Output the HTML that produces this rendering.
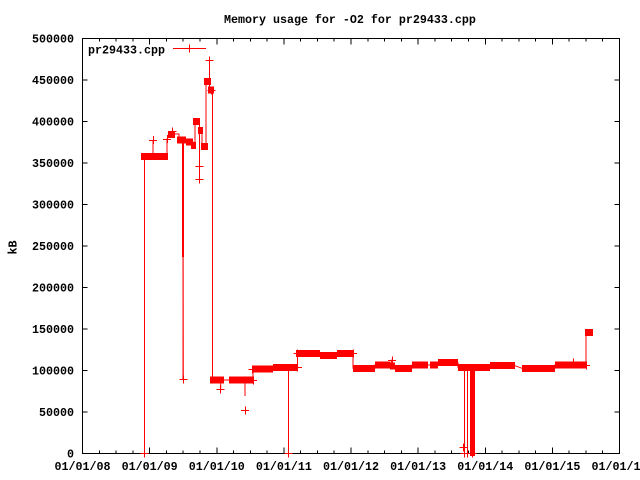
<!DOCTYPE html>
<html><head><meta charset="utf-8"><style>
html,body{margin:0;padding:0;background:#fff;}
svg{display:block;}
text{font-family:"Liberation Mono",monospace;font-weight:bold;font-size:11.67px;fill:#000;}
</style></head><body>
<svg width="640" height="480" viewBox="0 0 640 480" xmlns="http://www.w3.org/2000/svg">
<rect width="640" height="480" fill="#fff"/>
<!-- title -->
<text x="224" y="23">Memory usage for -O2 for pr29433.cpp</text>
<!-- ylabel -->
<text transform="translate(16.5,247.5) rotate(-90)" text-anchor="middle">kB</text>

<!-- axes frame -->
<g stroke="#000" stroke-width="1" fill="none" shape-rendering="crispEdges">
<rect x="82.5" y="38.5" width="537" height="415"/>
<!-- y ticks -->
<path d="M82.5 453.5h5M82.5 412h5M82.5 370.5h5M82.5 329h5M82.5 287.5h5M82.5 246h5M82.5 204.5h5M82.5 163h5M82.5 121.5h5M82.5 80h5M82.5 38.5h5
M619.5 453.5h-5M619.5 412h-5M619.5 370.5h-5M619.5 329h-5M619.5 287.5h-5M619.5 246h-5M619.5 204.5h-5M619.5 163h-5M619.5 121.5h-5M619.5 80h-5M619.5 38.5h-5"/>
<!-- x major ticks -->
<path d="M82.5 453.5v-6M149.6 453.5v-6M216.75 453.5v-6M283.9 453.5v-6M351 453.5v-6M418.1 453.5v-6M485.25 453.5v-6M552.4 453.5v-6M619.5 453.5v-6
M82.5 38.5v6M149.6 38.5v6M216.75 38.5v6M283.9 38.5v6M351 38.5v6M418.1 38.5v6M485.25 38.5v6M552.4 38.5v6M619.5 38.5v6"/>
<!-- x minor ticks -->
<path d="M99.3 453.5v-3M116 453.5v-3M132.8 453.5v-3M166.4 453.5v-3M183.2 453.5v-3M200 453.5v-3M233.5 453.5v-3M250.3 453.5v-3M267.1 453.5v-3M300.7 453.5v-3M317.5 453.5v-3M334.2 453.5v-3M367.8 453.5v-3M384.6 453.5v-3M401.3 453.5v-3M434.9 453.5v-3M451.7 453.5v-3M468.5 453.5v-3M502 453.5v-3M518.8 453.5v-3M535.6 453.5v-3M569.2 453.5v-3M586 453.5v-3M602.7 453.5v-3
M99.3 38.5v3M116 38.5v3M132.8 38.5v3M166.4 38.5v3M183.2 38.5v3M200 38.5v3M233.5 38.5v3M250.3 38.5v3M267.1 38.5v3M300.7 38.5v3M317.5 38.5v3M334.2 38.5v3M367.8 38.5v3M384.6 38.5v3M401.3 38.5v3M434.9 38.5v3M451.7 38.5v3M468.5 38.5v3M502 38.5v3M518.8 38.5v3M535.6 38.5v3M569.2 38.5v3M586 38.5v3M602.7 38.5v3"/>
</g>

<!-- y tick labels -->
<g text-anchor="end">
<text x="74" y="457.5">0</text>
<text x="74" y="416">50000</text>
<text x="74" y="374.5">100000</text>
<text x="74" y="333">150000</text>
<text x="74" y="291.5">200000</text>
<text x="74" y="250">250000</text>
<text x="74" y="208.5">300000</text>
<text x="74" y="167">350000</text>
<text x="74" y="125.5">400000</text>
<text x="74" y="84">450000</text>
<text x="74" y="42.5">500000</text>
</g>
<!-- x tick labels -->
<g text-anchor="middle">
<text x="82.5" y="470">01/01/08</text>
<text x="149.6" y="470">01/01/09</text>
<text x="216.75" y="470">01/01/10</text>
<text x="283.9" y="470">01/01/11</text>
<text x="351" y="470">01/01/12</text>
<text x="418.1" y="470">01/01/13</text>
<text x="485.25" y="470">01/01/14</text>
<text x="552.4" y="470">01/01/15</text>
<text x="619.5" y="470">01/01/16</text>
</g>

<!-- legend -->
<text x="88" y="53.3">pr29433.cpp</text>
<g stroke="#f00" stroke-width="1" fill="none" shape-rendering="crispEdges">
<path d="M173 48.5H206M189.5 44.5v8"/>
</g>

<!-- data -->
<g fill="#f00" shape-rendering="crispEdges">
<rect x="141" y="153" width="27" height="7"/>
<rect x="168" y="131" width="7" height="7"/>
<rect x="177" y="136.5" width="9" height="7"/>
<rect x="186" y="138.5" width="7" height="7"/>
<rect x="191" y="142" width="5" height="7"/>
<rect x="193" y="118" width="7" height="7"/>
<rect x="198" y="127" width="5" height="7"/>
<rect x="201" y="143" width="7" height="7"/>
<rect x="204" y="78" width="7" height="7"/>
<rect x="208" y="86.5" width="6" height="7"/>
<rect x="182" y="139" width="2" height="118"/>
<rect x="210" y="376.5" width="14" height="7"/>
<rect x="229" y="376.5" width="24" height="7"/>
<rect x="253" y="365.5" width="20" height="7"/>
<rect x="273" y="364.2" width="25" height="7"/>
<rect x="296" y="350" width="24" height="7"/>
<rect x="320" y="352" width="17" height="7"/>
<rect x="337" y="350" width="16" height="7"/>
<rect x="353" y="364.8" width="22" height="7"/>
<rect x="375" y="361.5" width="15" height="7"/>
<rect x="390" y="362.5" width="5" height="7"/>
<rect x="395" y="364.8" width="17" height="7"/>
<rect x="412" y="361.5" width="16" height="7"/>
<rect x="430" y="361.5" width="8" height="7"/>
<rect x="438" y="359.2" width="20" height="7"/>
<rect x="458" y="364.2" width="32" height="7"/>
<rect x="470" y="364.2" width="5" height="92"/>
<rect x="490" y="362.2" width="25" height="7"/>
<rect x="522" y="364.8" width="33" height="7"/>
<rect x="555" y="361.5" width="31" height="7"/>
<rect x="585" y="329.2" width="8" height="7"/>
</g>
<g stroke="#f00" stroke-width="1" fill="none">
<polyline points="144.5,453 144.5,156.5 153,156.5 153,140 153,156.5 167,156.5 167,139 172.5,131.5 174,134 179,134 179,140 183,140 183,379 183.3,379 183,141 193,142 193,145.5 195,145.5 195,121.5 199.5,121.5 199.5,180 199.5,130.5 202,130.5 202,146.5 206,146.5 206,81.5 209.5,81.5 209.5,60.5 209.5,90 212.5,90 212.5,380 220.7,380 220.7,389 220.7,380 245,380 245,396 245,380 253,380 253,369 273,369 273,367.7 288.5,367.7 288.5,453 288.5,367.7 297.5,367.7 297.5,353.5 320,353.5 320,355.5 337,355.5 337,353.5 353,353.5 353,368.3 375,368.3 375,365 390,365 392,360 393,366 395,368.3 412,368.3 412,365 438,365 438,362.7 458,362.7 458,367.7 464.5,367.7 464.5,453 464.5,367.7 467.5,367.7 467.5,453 467.5,367.7 490,367.7 490,365.7 515,365.7 522,368.3 555,368.3 555,365 573,365 573,362.7 574,365 586,365 586,332.7 593,332.7"/>
<path shape-rendering="crispEdges" d="
M149 140.5h8M153.5 136v8
M163 139.5h8M167.5 135v8
M168.5 131.5h8M172.5 127.5v8
M195.5 166.5h8M199.5 162.5v8
M195.5 179.5h8M199.5 175.5v8
M205.5 60.5h8M209.5 56.5v8
M207.5 90.5h8M211.5 86.5v8
M179.5 379.5h8M183.5 375.5v8
M216.5 389.5h8M220.5 385.5v8
M241 410.5h8M245.5 406.5v8
M248.5 369.5h8M252.5 365.5v8
M140.5 453.5h8M144.5 449.5v8
M284.5 453.5h8M288.5 449.5v8
M459.5 447.5h8M463.5 443.5v8
M460.5 453.5h8M464.5 449.5v8
M463.5 453.5h8M467.5 449.5v8
M468.5 453.5h8M472.5 449.5v8
M388 360.5h8M392.5 356.5v8
M569 362.5h8M573.5 358.5v8
M582 365.5h8M586.5 361.5v8
M349 353.5h8M353.5 349.5v8
M294 367.5h8M297.5 363.5v8
M293.5 353.5h8M297.5 349.5v8
M249 380.5h8M253.5 376.5v8
"/>
</g>
</svg>
</body></html>
